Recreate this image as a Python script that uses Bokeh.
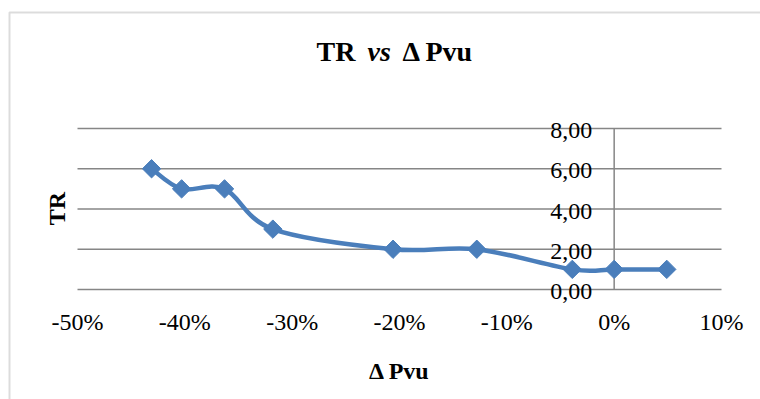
import numpy as np
from bokeh.plotting import figure
from bokeh.models import Range1d, BoxAnnotation
from bokeh.core.properties import value
from bokeh.embed import file_html
from bokeh.resources import INLINE

# ---- data ----
dpvu = [-0.431, -0.403, -0.363, -0.318, -0.206, -0.128, -0.039, 0.0, 0.049]
tr = [6, 5, 5, 3, 2, 2, 1, 1, 1]
x_ticks = [-0.5, -0.4, -0.3, -0.2, -0.1, 0.0, 0.1]
x_tick_labels = ["-50%", "-40%", "-30%", "-20%", "-10%", "0%", "10%"]
y_ticks = [0, 2, 4, 6, 8]
y_tick_labels = ["0,00", "2,00", "4,00", "6,00", "8,00"]

BLUE = "#4A7EBB"
GRAY = "#868686"
FONT = value("Liberation Serif")

W, H = 760, 399
# plot-area placement (pixels) of the value ranges
PX_L, PX_R = 77, 721      # x = -0.5 .. 0.1
PY_T, PY_B = 128, 289     # y = 8 .. 0
XMIN, XMAX = x_ticks[0], x_ticks[-1]
YMIN, YMAX = y_ticks[0], y_ticks[-1]
sx = (XMAX - XMIN) / (PX_R - PX_L)
sy = (YMAX - YMIN) / (PY_B - PY_T)


def px2x(px):
    return XMIN + (px - PX_L) * sx


def py2y(py):
    return YMIN + (PY_B - py) * sy


p = figure(width=W, height=H, output_backend="svg", toolbar_location=None,
           x_range=Range1d(px2x(0), px2x(W)), y_range=Range1d(py2y(H), py2y(0)),
           min_border=0, x_axis_location=None, y_axis_location=None)
p.outline_line_color = None
p.grid.visible = False
p.background_fill_color = "white"
p.border_fill_color = "white"

# chart-area border
p.add_layout(BoxAnnotation(left=px2x(9), right=px2x(W + 40), top=py2y(12), bottom=py2y(H + 40),
                           fill_alpha=0, line_color="#8a8a8a", line_width=2))

# horizontal gridlines (y = 0 acts as the x axis line)
p.segment(x0=[XMIN] * len(y_ticks), x1=[XMAX] * len(y_ticks), y0=y_ticks, y1=y_ticks,
          line_color=GRAY, line_width=1.5)
# vertical value axis at x = 0
p.segment(x0=[0], x1=[0], y0=[YMIN], y1=[YMAX], line_color=GRAY, line_width=1.5)

# y tick labels (next to the axis at x = 0)
p.text(x=[0] * len(y_ticks), y=y_ticks, text=y_tick_labels, x_offset=-22, y_offset=2,
       text_align="right", text_baseline="alphabetic", text_font=FONT,
       text_font_size="24px", text_color="black")
# x tick labels
p.text(x=x_ticks, y=[YMIN] * len(x_ticks), text=x_tick_labels, y_offset=32,
       text_align="center", text_baseline="alphabetic", text_font=FONT,
       text_font_size="24px", text_color="black")

# axis titles
p.text(x=[px2x(399)], y=[py2y(370)], text=["Δ Pvu"], text_align="center",
       text_baseline="alphabetic", text_font=FONT, text_font_size="24px",
       text_font_style="bold", text_color="black")
p.text(x=[px2x(56)], y=[py2y(208)], text=["TR"], angle=np.pi / 2, text_align="center",
       text_baseline="alphabetic", text_font=FONT, text_font_size="24px",
       text_font_style="bold", text_color="black")

# chart title with mixed styles
TITLE_Y = py2y(51)
p.text(x=[px2x(316)], y=[TITLE_Y], text=["TR"], text_align="left",
       text_baseline="alphabetic", text_font=FONT, text_font_size="28px",
       text_font_style="bold", text_color="black")
p.text(x=[px2x(367)], y=[TITLE_Y], text=["vs"], text_align="left",
       text_baseline="alphabetic", text_font=FONT, text_font_size="28px",
       text_font_style="bold italic", text_color="black")
p.text(x=[px2x(402)], y=[TITLE_Y], text=["Δ Pvu"], text_align="left",
       text_baseline="alphabetic", text_font=FONT, text_font_size="28px",
       text_font_style="bold", text_color="black")

# smooth line (Catmull-Rom style Bezier, as Excel's smoothed line)
xs = np.array(dpvu, dtype=float)
ys = np.array(tr, dtype=float)
pxs = np.concatenate([[xs[0]], xs, [xs[-1]]])
pys = np.concatenate([[ys[0]], ys, [ys[-1]]])
x0 = xs[:-1]; y0 = ys[:-1]; x1 = xs[1:]; y1 = ys[1:]
cx0 = x0 + (pxs[2:-1] - pxs[:-3]) / 6.0
cy0 = y0 + (pys[2:-1] - pys[:-3]) / 6.0
cx1 = x1 - (pxs[3:] - pxs[1:-2]) / 6.0
cy1 = y1 - (pys[3:] - pys[1:-2]) / 6.0
p.bezier(x0=x0, y0=y0, x1=x1, y1=y1, cx0=cx0, cy0=cy0, cx1=cx1, cy1=cy1,
         line_color=BLUE, line_width=4.5, line_cap="round")
p.scatter(dpvu, tr, marker="square", size=13, angle=np.pi / 4,
          fill_color=BLUE, line_color=BLUE)

open("out.html", "w").write(file_html(p, INLINE))
